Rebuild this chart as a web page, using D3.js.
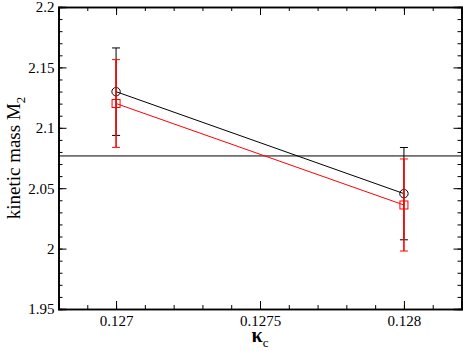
<!DOCTYPE html>
<html><head><meta charset="utf-8">
<script src="https://cdn.jsdelivr.net/npm/d3@7"></script>
<style>body{margin:0;background:#fff}svg{display:block}
.tk text{font-family:"Liberation Serif","Times New Roman",serif !important;font-size:15px !important;fill:#000}</style>
</head><body>
<script>
const kappa = [0.127, 0.128];
const blackVals = [2.1299, 2.0455];
const blackErr = [0.0362, 0.0382];
const redVals = [2.1201, 2.0361];
const redErr = [0.0363, 0.0381];
const refLine = 2.0767;
const xMajorTicks = [0.127, 0.1275, 0.128];
const yMajorTicks = [1.95, 2, 2.05, 2.1, 2.15, 2.2];

const W = 463, H = 351;
const m = {l: 58.5, r: 1.5, t: 7, b: 42};
const svg = d3.select("body").append("svg").attr("width", W).attr("height", H);
const x = d3.scaleLinear().domain([0.1268, 0.1282]).range([m.l, W - m.r]);
const y = d3.scaleLinear().domain([1.95, 2.2]).range([H - m.b, m.t]);
const font = "'Liberation Serif', 'Times New Roman', serif";

const xMinor = d3.range(0, 15).map(i => 0.1268 + i * 0.0001);
const yMinor = d3.range(0, 26).map(i => 1.95 + i * 0.01);

const g = svg.append("g");
function tickAxis(mk, tr, major, minor, fmt, pad) {
  const a = g.append("g").attr("class", "tk").attr("transform", tr);
  a.call(mk().tickValues(minor).tickSize(-4).tickFormat(""));
  const b = g.append("g").attr("class", "tk").attr("transform", tr);
  b.call(mk().tickValues(major).tickSize(-8).tickFormat(fmt).tickPadding(pad));
  [a, b].forEach(s => {
    s.selectAll("path").attr("stroke", "#000").attr("stroke-width", 1.6);
    s.selectAll("line").attr("stroke", "#000").attr("stroke-width", 1);
  });
  return b;
}
const fmtY = d => String(+d.toFixed(2));
tickAxis(() => d3.axisBottom(x), `translate(0,${H - m.b})`, xMajorTicks, xMinor, d => String(d), 6);
tickAxis(() => d3.axisTop(x), `translate(0,${m.t})`, xMajorTicks, xMinor, () => "", 6);
tickAxis(() => d3.axisLeft(y), `translate(${m.l},0)`, yMajorTicks, yMinor, fmtY, 4);
tickAxis(() => d3.axisRight(y), `translate(${W - m.r},0)`, yMajorTicks, yMinor, () => "", 4);

g.append("line").attr("x1", x(0.1268)).attr("x2", x(0.1282))
  .attr("y1", y(refLine)).attr("y2", y(refLine)).attr("stroke", "#000").attr("stroke-width", 1);

function series(vals, errs, color, lw) {
  const s = g.append("g");
  s.append("path").datum(vals.map((v, i) => [kappa[i], v]))
    .attr("d", d3.line().x(d => x(d[0])).y(d => y(d[1])))
    .attr("fill", "none").attr("stroke", color).attr("stroke-width", 1);
  vals.forEach((v, i) => {
    const cx = x(kappa[i]);
    s.append("line").attr("x1", cx).attr("x2", cx).attr("y1", y(v + errs[i])).attr("y2", y(v - errs[i]))
      .attr("stroke", color).attr("stroke-width", lw);
    [v + errs[i], v - errs[i]].forEach(e => {
      s.append("line").attr("x1", cx - 4).attr("x2", cx + 4).attr("y1", y(e)).attr("y2", y(e))
        .attr("stroke", color).attr("stroke-width", 1);
    });
  });
  return s;
}
const sb = series(blackVals, blackErr, "#000", 1);
const sr = series(redVals, redErr, "#ff0000", 1.6);
blackVals.forEach((v, i) => {
  sb.append("circle").attr("cx", x(kappa[i])).attr("cy", y(v)).attr("r", 4.2)
    .attr("fill", "none").attr("stroke", "#000").attr("stroke-width", 1);
});
redVals.forEach((v, i) => {
  sr.append("rect").attr("x", x(kappa[i]) - 4).attr("y", y(v) - 4).attr("width", 8).attr("height", 8)
    .attr("fill", "none").attr("stroke", "#ff0000").attr("stroke-width", 1);
});

const yl = svg.append("text").attr("transform", `translate(20,${(m.t + H - m.b) / 2}) rotate(-90)`)
  .attr("text-anchor", "middle").style("font-family", font).style("font-size", "19px").attr("fill", "#000");
yl.append("tspan").text("kinetic mass M");
yl.append("tspan").style("font-size", "13px").attr("dy", 5).text("2");

const xl = svg.append("text").attr("x", x(0.1275)).attr("y", 342)
  .attr("text-anchor", "middle").style("font-family", font).attr("fill", "#000");
xl.append("tspan").style("font-size", "20px").attr("font-weight", "bold").text("κ");
xl.append("tspan").style("font-size", "13px").attr("dy", 5).text("c");
</script>
</body></html>
